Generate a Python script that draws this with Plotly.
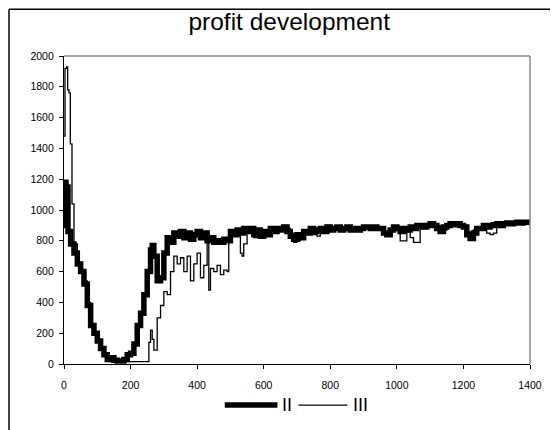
import plotly.graph_objects as go

# series II (thick line)
t_2 = [0, 3, 6, 9, 12, 20, 30, 40, 50, 60, 70, 80, 90, 100, 110, 120, 130, 140, 150,
       160, 170, 180, 190, 200, 210, 220, 230, 240, 250, 260, 265, 270, 280, 290, 300,
       310, 320, 330, 340, 350, 360, 370, 380, 390, 400, 410, 420, 430, 440, 450, 460,
       470, 480, 490, 500, 510, 520, 530, 540, 550, 560, 570, 580, 590, 600, 610, 620,
       630, 640, 650, 660, 670, 680, 690, 700, 710, 720, 730, 740, 750, 760, 770, 780,
       790, 800, 810, 820, 830, 840, 850, 860, 870, 880, 890, 900, 910, 920, 930, 940,
       950, 960, 970, 980, 990, 1000, 1010, 1020, 1030, 1040, 1050, 1060, 1070, 1080,
       1090, 1100, 1110, 1120, 1130, 1140, 1150, 1160, 1170, 1180, 1190, 1200, 1210,
       1220, 1230, 1240, 1250, 1260, 1270, 1280, 1290, 1300, 1310, 1320, 1330, 1340,
       1350, 1360, 1370, 1380, 1390, 1400]
v_2 = [900, 1180, 900, 1150, 860, 780, 720, 650, 600, 520, 380, 250, 200, 150, 100, 60,
       30, 40, 25, 20, 20, 30, 60, 70, 130, 250, 330, 450, 600, 740, 770, 700, 540, 560,
       720, 820, 790, 850, 830, 860, 820, 850, 810, 840, 860, 820, 850, 800, 820, 790,
       800, 790, 810, 800, 860, 840, 870, 850, 880, 860, 880, 840, 870, 830, 860, 840,
       880, 860, 880, 870, 890, 860, 830, 810, 840, 820, 860, 850, 880, 860, 870, 880,
       860, 890, 870, 880, 890, 870, 880, 890, 870, 880, 870, 880, 890, 890, 880, 890,
       880, 880, 850, 840, 870, 890, 880, 860, 880, 870, 890, 880, 900, 900, 890, 900,
       910, 900, 880, 860, 890, 900, 910, 905, 910, 900, 890, 840, 815, 850, 880, 880,
       900, 890, 900, 905, 910, 900, 910, 915, 910, 915, 920, 915, 920, 920, 920]

# series III (thin line)
t_3 = [0, 3, 8, 11, 15, 19, 24, 30, 40, 50, 60, 70, 80, 90, 100, 110, 120, 130, 140,
       150, 200, 254, 255, 260, 265, 270, 280, 290, 300, 310, 320, 330, 340, 350, 360,
       370, 380, 390, 400, 410, 420, 430, 435, 440, 450, 460, 470, 480, 490, 495, 500,
       510, 520, 530, 535, 540, 550, 560, 570, 580, 590, 600, 610, 620, 630, 640, 650,
       660, 670, 680, 690, 700, 710, 720, 730, 740, 750, 760, 770, 780, 790, 800, 820,
       840, 860, 880, 900, 920, 940, 960, 980, 1000, 1010, 1020, 1030, 1040, 1050, 1060,
       1070, 1090, 1110, 1130, 1150, 1170, 1190, 1200, 1210, 1220, 1230, 1240, 1260,
       1270, 1280, 1290, 1300, 1310, 1330, 1350, 1370, 1400]
v_3 = [1480, 1920, 1930, 1780, 1760, 1430, 1040, 780, 660, 610, 540, 400, 260, 210, 160,
       110, 60, 30, 15, 15, 15, 15, 140, 220, 160, 90, 300, 380, 470, 450, 600, 700, 650,
       690, 600, 700, 540, 650, 720, 560, 640, 800, 480, 620, 600, 640, 580, 610, 600,
       850, 860, 840, 850, 720, 700, 780, 850, 870, 820, 860, 850, 870, 860, 890, 870,
       890, 880, 900, 880, 850, 790, 800, 840, 870, 860, 890, 840, 830, 870, 880, 900,
       880, 880, 870, 880, 880, 890, 870, 880, 860, 880, 880, 800, 800, 860, 820, 790,
       790, 880, 900, 900, 870, 900, 900, 900, 900, 860, 830, 870, 870, 890, 850, 840,
       850, 890, 910, 910, 915, 915, 920]

x_ticks = [0, 200, 400, 600, 800, 1000, 1200, 1400]
y_ticks = [0, 200, 400, 600, 800, 1000, 1200, 1400, 1600, 1800, 2000]
series_names = ["II", "III"]

FONT = "Liberation Sans, Arial, sans-serif"

fig = go.Figure()
fig.add_trace(go.Scatter(x=t_2, y=v_2, name=series_names[0], mode="lines", line_shape="hv",
                         line=dict(color="black", width=5.5)))
fig.add_trace(go.Scatter(x=t_3, y=v_3, name=series_names[1], mode="lines", line_shape="hv",
                         line=dict(color="black", width=1.3)))

axis_font = dict(family=FONT, size=10.5, color="black")
fig.update_xaxes(range=[0, 1400], tickvals=x_ticks, showgrid=False, zeroline=False,
                 showline=True, linecolor="black", linewidth=1.3,
                 ticks="outside", ticklen=4, tickcolor="black",
                 ticklabelstandoff=7, tickfont=axis_font)
fig.update_yaxes(range=[0, 2000], tickvals=y_ticks, showgrid=False, zeroline=False,
                 showline=True, linecolor="black", linewidth=1.3,
                 ticks="outside", ticklen=4, tickcolor="black",
                 ticklabelstandoff=3, tickfont=axis_font)

# gray frame on top and right of the plot area, black border round the chart
fig.add_shape(type="line", xref="paper", yref="paper", x0=0, x1=1, y0=1, y1=1,
              line=dict(color="#888888", width=1.5))
fig.add_shape(type="line", xref="paper", yref="paper", x0=1, x1=1, y0=0, y1=1,
              line=dict(color="#888888", width=1.5))
fig.add_shape(type="line", xref="paper", yref="paper", x0=-0.118, x1=1.2, y0=1.152, y1=1.152,
              line=dict(color="black", width=1.5))
fig.add_shape(type="line", xref="paper", yref="paper", x0=-0.118, x1=-0.118, y0=-0.3, y1=1.152,
              line=dict(color="black", width=1.5))

# legend drawn by hand so the sample lines are as long as in the original
leg_y = -0.1335
fig.add_shape(type="line", xref="paper", yref="paper", x0=0.345, x1=0.458, y0=leg_y, y1=leg_y,
              line=dict(color="black", width=5.5))
fig.add_shape(type="line", xref="paper", yref="paper", x0=0.503, x1=0.608, y0=leg_y, y1=leg_y,
              line=dict(color="black", width=1.3))
for name, xpos in zip(series_names, [0.466, 0.617]):
    fig.add_annotation(text=name, xref="paper", yref="paper", x=xpos, y=leg_y,
                       xanchor="left", yanchor="middle", showarrow=False, borderpad=0,
                       font=dict(family=FONT, size=18, color="black"))

fig.update_layout(
    width=558, height=430,
    margin=dict(l=56, r=36, t=48, b=74),
    paper_bgcolor="white", plot_bgcolor="white",
    title=dict(text="profit development", x=0.504, xanchor="center", y=0.968, yanchor="middle",
               font=dict(family=FONT, size=24.5, color="black")),
    showlegend=False,
)

fig.write_html("out.html")
